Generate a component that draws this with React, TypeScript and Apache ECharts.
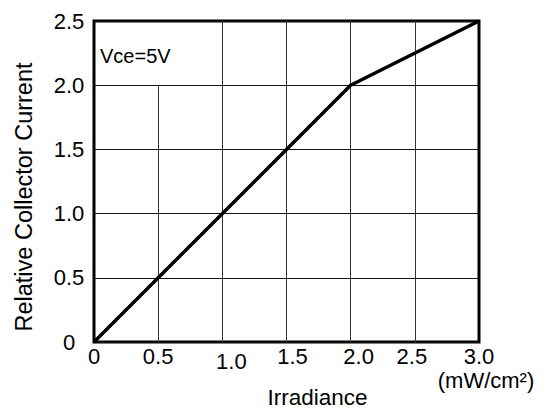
import React, { useEffect, useRef } from "react";
import * as echarts from "echarts";

// Data
const irradiance = [0, 2.0, 3.0];
const relCurrent = [0, 2.0, 2.5];
const xTickValues = [0, 0.5, 1.0, 1.5, 2.0, 2.5, 3.0];
const xTickLabels = ["0", "0.5", "1.0", "1.5", "2.0", "2.5", "3.0"];
const yTickValues = [0, 0.5, 1.0, 1.5, 2.0, 2.5];
const yTickLabels = ["0", "0.5", "1.0", "1.5", "2.0", "2.5"];
// Vertical grid lines (x values) and the y value where each ends at the top
const vGridX = [0.5, 1.0, 1.5, 2.0, 2.5];
const vGridTop = [2.0, 2.5, 2.5, 2.5, 2.5];
const noteText = "Vce=5V";
const xName = "Irradiance";
const xUnit = "(mW/cm²)";
const yName = "Relative Collector Current";

const FONT = "'Liberation Sans', Arial, Helvetica, sans-serif";

// per-label style keys (nudges to mimic the original typesetting)
const xLabelStyleKey: Record<string, string> = {
  "1.0": "b",
  "1.5": "c",
  "2.0": "d",
  "2.5": "e",
};

export default function App() {
  const ref = useRef<HTMLDivElement>(null);
  useEffect(() => {
    if (!ref.current) return;
    const chart = echarts.init(ref.current, null, { renderer: "svg" });
    const yMax = yTickValues[yTickValues.length - 1];
    const option: any = {
      animation: false,
      backgroundColor: "#fff",
      grid: {
        left: 94,
        right: 66,
        top: 21,
        bottom: 68,
        show: true,
        borderColor: "#000",
        borderWidth: 3,
        backgroundColor: "transparent",
      },
      xAxis: {
        type: "value",
        min: xTickValues[0],
        max: xTickValues[xTickValues.length - 1],
        interval: 0.5,
        axisLine: { show: false },
        axisTick: { show: false },
        splitLine: { show: false },
        axisLabel: {
          fontSize: 22,
          fontFamily: FONT,
          color: "#000",
          margin: 3,
          showMinLabel: true,
          showMaxLabel: true,
          formatter: (v: number) => {
            const i = xTickValues.findIndex((t) => Math.abs(t - v) < 1e-6);
            const s = i >= 0 ? xTickLabels[i] : String(v);
            const k = xLabelStyleKey[s] || "a";
            return "{" + k + "|" + s + "}";
          },
          rich: {
            a: { fontSize: 22, fontFamily: FONT, color: "#000" },
            b: { fontSize: 22, fontFamily: FONT, color: "#000", padding: [5, 0, 0, 18] },
            c: { fontSize: 22, fontFamily: FONT, color: "#000", padding: [0, 0, 0, 12] },
            d: { fontSize: 22, fontFamily: FONT, color: "#000", padding: [0, 0, 0, 16] },
            e: { fontSize: 22, fontFamily: FONT, color: "#000", padding: [0, 6, 0, 0] },
          },
        },
      },
      yAxis: {
        type: "value",
        min: yTickValues[0],
        max: yMax,
        interval: 0.5,
        axisLine: { show: false },
        axisTick: { show: false },
        splitLine: { show: true, lineStyle: { color: "#111", width: 1 } },
        axisLabel: {
          fontSize: 22,
          fontFamily: FONT,
          color: "#000",
          align: "center",
          margin: 25,
          padding: [0, 0, 4, 0],
          formatter: (v: number) => {
            const i = yTickValues.findIndex((t) => Math.abs(t - v) < 1e-6);
            return i >= 0 ? yTickLabels[i] : String(v);
          },
        },
      },
      series: [
        {
          type: "line",
          data: irradiance.map((x, i) => [x, relCurrent[i]]),
          symbol: "none",
          lineStyle: { color: "#000", width: 3.5 },
          z: 5,
          markLine: {
            silent: true,
            symbol: ["none", "none"],
            label: { show: false },
            lineStyle: { color: "#333", width: 1, type: "solid" },
            data: vGridX.map((x, i) => [
              { coord: [x, yTickValues[0]] },
              { coord: [x, vGridTop[i]] },
            ]),
          },
        },
      ],
      graphic: [
        {
          type: "text",
          left: 100,
          top: 46,
          style: { text: noteText, fontSize: 20, fontFamily: FONT, fill: "#000" },
        },
        {
          type: "text",
          x: 24,
          y: 197,
          rotation: Math.PI / 2,
          style: {
            text: yName,
            fontSize: 23.5,
            fontFamily: FONT,
            fill: "#000",
            align: "center",
            verticalAlign: "middle",
          },
        },
        {
          type: "text",
          x: 317.5,
          y: 397.5,
          style: {
            text: xName,
            fontSize: 22.5,
            fontFamily: FONT,
            fill: "#000",
            align: "center",
            verticalAlign: "middle",
          },
        },
        {
          type: "text",
          x: 486,
          y: 380,
          style: {
            text: xUnit,
            fontSize: 22,
            fontFamily: FONT,
            fill: "#000",
            align: "center",
            verticalAlign: "middle",
          },
        },
      ],
    };
    chart.setOption(option);
    return () => chart.dispose();
  }, []);
  return (
    <div
      ref={ref}
      style={{ position: "absolute", left: 0, top: 0, width: 545, height: 410, background: "#fff" }}
    />
  );
}
